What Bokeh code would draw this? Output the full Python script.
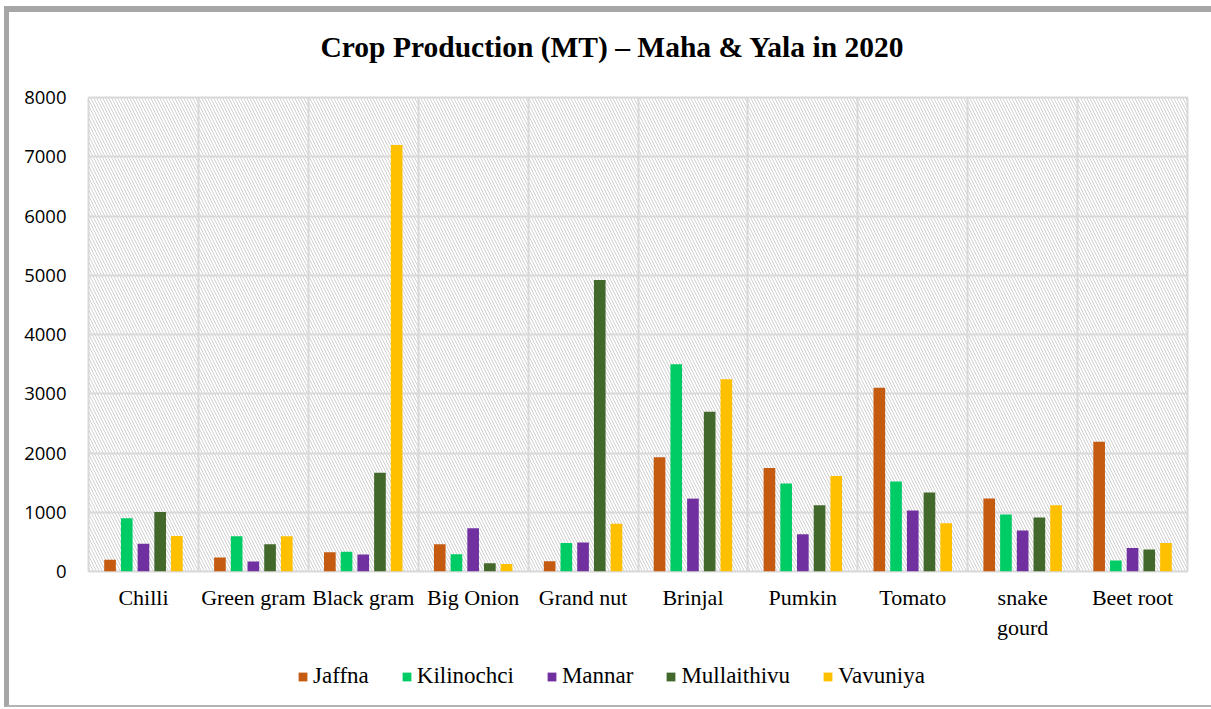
from bokeh.plotting import figure
from bokeh.layouts import column
from bokeh.models import (Range1d, FixedTicker, BoxAnnotation, Legend, LegendItem,
                          ColumnDataSource, Title)
from bokeh.embed import file_html
from bokeh.resources import INLINE
import numpy as np

# ---- data ----
categories = ["Chilli", "Green gram", "Black gram", "Big Onion", "Grand nut",
              "Brinjal", "Pumkin", "Tomato", "snake\ngourd", "Beet root"]
series_names = ["Jaffna", "Kilinochci", "Mannar", "Mullaithivu", "Vavuniya"]
jaffna      = [200, 235, 325, 460, 175, 1930, 1745, 3100, 1230, 2190]
kilinochci  = [900, 595, 335, 290, 480, 3500, 1485, 1520, 960, 185]
mannar      = [470, 170, 285, 730, 490, 1230, 630, 1030, 690, 395]
mullaithivu = [1005, 460, 1665, 140, 4920, 2695, 1120, 1335, 910, 370]
vavuniya    = [600, 595, 7200, 125, 805, 3245, 1610, 815, 1120, 480]
y_ticks = [0, 1000, 2000, 3000, 4000, 5000, 6000, 7000, 8000]
title_text = "Crop Production (MT) \u2013 Maha & Yala in 2020"

series_values = [jaffna, kilinochci, mannar, mullaithivu, vavuniya]
colors = ["#C55A11", "#00CC66", "#7030A0", "#43682B", "#FFC000"]

n = len(categories)

# title strip
tf = figure(width=1202, height=71, x_range=Range1d(0, 1), y_range=Range1d(0, 1),
            output_backend="svg", toolbar_location=None, min_border=0,
            x_axis_location=None, y_axis_location=None)
tf.xgrid.visible = False
tf.ygrid.visible = False
tf.outline_line_color = None
tf.title = Title(text=title_text, align="left", text_font="Liberation Serif",
                 text_font_size="29.5px", text_font_style="bold", text_color="black",
                 standoff=32, offset=232)

# main chart
p = figure(frame_width=1099, frame_height=474,
           x_range=Range1d(0, n), y_range=Range1d(0, y_ticks[-1]),
           output_backend="svg", toolbar_location=None,
           min_border_left=79, min_border_right=24, min_border_top=14, min_border_bottom=80)

p.add_layout(BoxAnnotation(fill_alpha=0, line_color=None, hatch_pattern="\\",
                           hatch_color="#d0d0d0", hatch_scale=6, hatch_weight=1,
                           level="image"))

step = 0.152
bw = 0.106
offsets = [(-2 + i) * step for i in range(5)]
for name, vals, col, off in zip(series_names, series_values, colors, offsets):
    src = ColumnDataSource(dict(x=np.arange(n) + 0.5 + off, top=vals))
    p.vbar(x="x", top="top", width=bw, source=src, fill_color=col, line_color=None)

p.xaxis.ticker = FixedTicker(ticks=[i + 0.5 for i in range(n)])
p.xaxis.major_label_overrides = {i + 0.5: c for i, c in enumerate(categories)}
p.xaxis.major_label_text_font = "Liberation Serif"
p.xaxis.major_label_text_font_size = "22px"
p.xaxis.major_label_text_color = "black"
p.xaxis.major_label_standoff = 7
p.yaxis.ticker = FixedTicker(ticks=y_ticks)
p.yaxis.major_label_text_font = "Open Sans"
p.yaxis.major_label_text_font_size = "18.5px"
p.yaxis.major_label_text_color = "black"
p.yaxis.major_label_standoff = 16
for ax in (p.xaxis, p.yaxis):
    ax.axis_line_color = None
    ax.major_tick_line_color = None
    ax.minor_tick_line_color = None

p.xgrid.ticker = FixedTicker(ticks=list(range(n + 1)))
p.ygrid.ticker = FixedTicker(ticks=y_ticks)
for g in (p.xgrid, p.ygrid):
    g.grid_line_color = "#d9d9d9"
    g.grid_line_width = 2
p.outline_line_color = "#d9d9d9"
p.outline_line_width = 2

# legend strip (separate figure below the chart)
lf = figure(width=1202, height=54, x_range=Range1d(0, 1), y_range=Range1d(0, 1),
            output_backend="svg", toolbar_location=None, min_border=0,
            x_axis_location=None, y_axis_location=None)
lf.xgrid.visible = False
lf.ygrid.visible = False
lf.outline_line_color = None
items = []
for name, col in zip(series_names, colors):
    r = lf.vbar(x=[0], top=[0], width=bw, fill_color=col, line_color=None)
    items.append(LegendItem(label=name, renderers=[r]))
legend = Legend(items=items, orientation="horizontal", location=(209, 16),
                label_text_font="Liberation Serif", label_text_font_size="23px",
                label_text_color="black",
                glyph_width=11, glyph_height=11, label_standoff=5, spacing=32,
                border_line_color=None, background_fill_alpha=0, padding=0, margin=0)
lf.add_layout(legend, "center")

layout = column(tf, p, lf, spacing=0,
                styles={"margin-left": "4px", "margin-top": "6px",
                        "border-left": "5px solid #a6a6a6", "border-top": "6px solid #a6a6a6",
                        "border-bottom": "2px solid #b4b4b4"})

open("out.html", "w").write(file_html(layout, INLINE))
